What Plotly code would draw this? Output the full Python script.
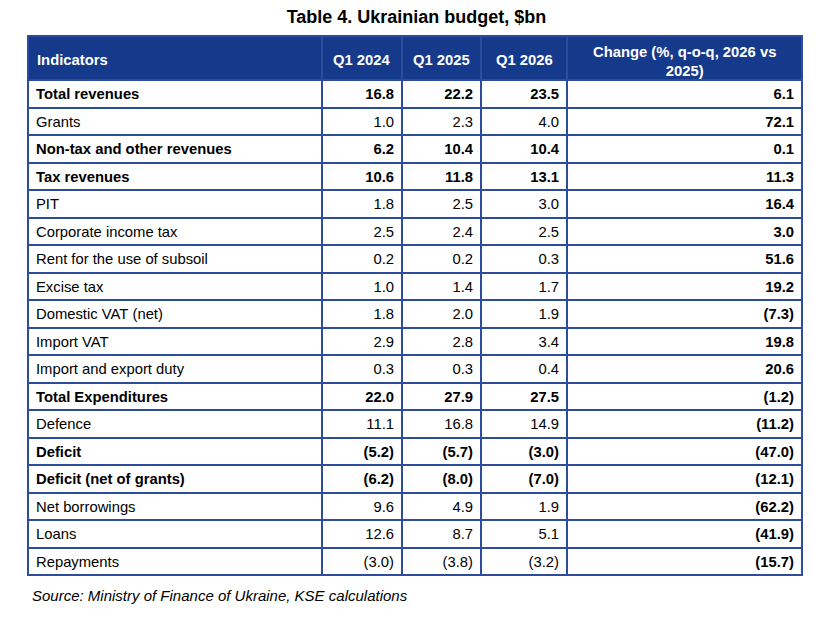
import plotly.graph_objects as go

# table data
indicators = [
    "Total revenues", "Grants", "Non-tax and other revenues", "Tax revenues",
    "PIT", "Corporate income tax", "Rent for the use of subsoil", "Excise tax",
    "Domestic VAT (net)", "Import VAT", "Import and export duty",
    "Total Expenditures", "Defence", "Deficit", "Deficit (net of grants)",
    "Net borrowings", "Loans", "Repayments",
]
q1_2024 = [16.8, 1.0, 6.2, 10.6, 1.8, 2.5, 0.2, 1.0, 1.8, 2.9, 0.3,
           22.0, 11.1, -5.2, -6.2, 9.6, 12.6, -3.0]
q1_2025 = [22.2, 2.3, 10.4, 11.8, 2.5, 2.4, 0.2, 1.4, 2.0, 2.8, 0.3,
           27.9, 16.8, -5.7, -8.0, 4.9, 8.7, -3.8]
q1_2026 = [23.5, 4.0, 10.4, 13.1, 3.0, 2.5, 0.3, 1.7, 1.9, 3.4, 0.4,
           27.5, 14.9, -3.0, -7.0, 1.9, 5.1, -3.2]
change = [6.1, 72.1, 0.1, 11.3, 16.4, 3.0, 51.6, 19.2, -7.3, 19.8, 20.6,
          -1.2, -11.2, -47.0, -12.1, -62.2, -41.9, -15.7]
bold_rows = {"Total revenues", "Non-tax and other revenues", "Tax revenues",
             "Total Expenditures", "Deficit", "Deficit (net of grants)"}
headers = ["Indicators", "Q1 2024", "Q1 2025", "Q1 2026",
           "Change (%, q-o-q, 2026 vs<br>2025)"]

BLUE = "#163a8b"
LINE = "#2c4c9c"
CLEAR = "rgba(0,0,0,0)"
FONT = "Liberation Sans, Arial"
OFF = 8  # body margin of the html page
W, H = 840 - 2 * OFF, 622 - 2 * OFF
col_px = [294, 80, 79, 86, 235]
left_px, top_px = 28 - OFF, 36 - OFF
header_h, row_h = 44, 27.5


def fmt(v: float) -> str:
    # negatives shown in brackets, accounting style
    return f"({abs(v):.1f})" if v < 0 else f"{v:.1f}"


def nb(text: str) -> str:
    # non-breaking spaces so plotly does not grow the rows
    return text.replace(" ", "\u00a0")


is_bold = [n in bold_rows for n in indicators]
text_cols = [
    [nb(n) for n in indicators],
    [fmt(v) for v in q1_2024],
    [fmt(v) for v in q1_2025],
    [fmt(v) for v in q1_2026],
    [fmt(v) for v in change],
]
# the change column is bold for every row
bold_mask = [is_bold] * 4 + [[True] * len(change)]


def pick(want_bold: bool) -> list:
    return [
        [t if b == want_bold else "" for t, b in zip(col, mask)]
        for col, mask in zip(text_cols, bold_mask)
    ]


def table(values: list, weight: str, fill: str, line: str) -> go.Table:
    return go.Table(
        domain=dict(x=[left_px / W, (left_px + sum(col_px)) / W],
                    y=[0.0, 1 - top_px / H]),
        columnwidth=col_px,
        header=dict(
            values=[""] * len(headers),
            fill_color=BLUE if fill != CLEAR else CLEAR,
            line=dict(color=line, width=2),
            height=header_h,
        ),
        cells=dict(
            values=values,
            fill_color=fill,
            line=dict(color=line, width=2),
            align=["left", "right", "right", "right", "right"],
            font=dict(family=FONT, size=14.8, color="black", weight=weight),
            height=row_h,
        ),
    )


fig = go.Figure()
fig.add_trace(table(pick(False), "normal", "white", LINE))
fig.add_trace(table(pick(True), "bold", CLEAR, CLEAR))

# header labels placed over the header band
edges = [left_px]
for w in col_px:
    edges.append(edges[-1] + w)
annotations = []
for i, h in enumerate(headers):
    first = i == 0
    two_lines = "<br>" in h
    annotations.append(
        dict(
            text=f"<b>{h}</b>",
            xref="paper", yref="paper",
            x=(edges[i] + 7) / W if first else (edges[i] + edges[i + 1]) / 2 / W,
            y=1 - (top_px + header_h / 2 + (3 if two_lines else 2)) / H,
            xanchor="left" if first else "center",
            yanchor="middle",
            showarrow=False,
            font=dict(family=FONT, size=14.8, color="white"),
        )
    )
annotations.append(
    dict(
        text="<i>Source: Ministry of Finance of Ukraine, KSE calculations</i>",
        xref="paper", yref="paper",
        x=(30 - OFF) / W, y=1 - (595 - OFF) / H,
        xanchor="left", yanchor="middle",
        showarrow=False,
        font=dict(family=FONT, size=15, color="black"),
    )
)

fig.update_layout(
    width=W,
    height=H,
    margin=dict(l=0, r=0, t=0, b=0),
    paper_bgcolor="white",
    title=dict(
        text="<b>Table 4. Ukrainian budget, $bn</b>",
        x=(416.5 - OFF) / W,
        xanchor="center",
        y=1 - (17 - OFF) / H,
        yanchor="middle",
        font=dict(family=FONT, size=18, color="black"),
    ),
    annotations=annotations,
)

fig.write_html("out.html")
